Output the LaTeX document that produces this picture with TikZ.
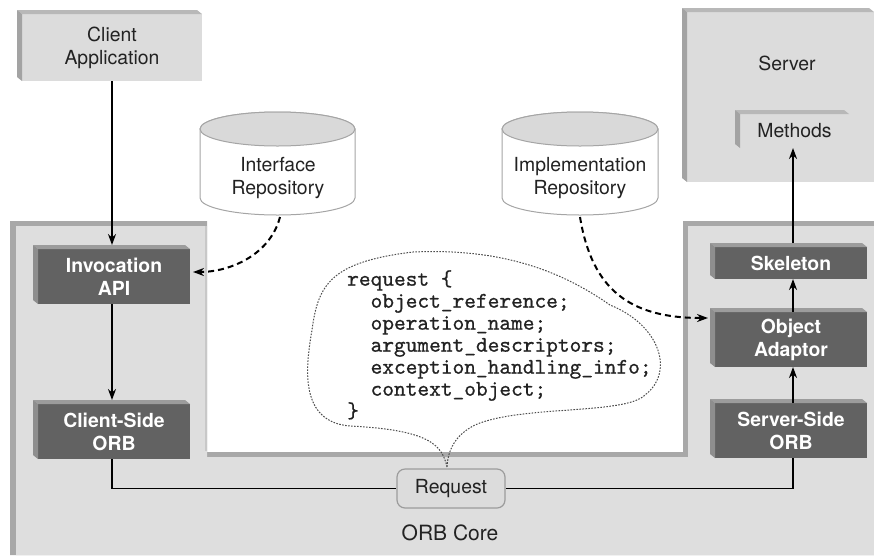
\documentclass[tikz,border=0pt]{standalone}
\usepackage{fontspec}
\setmainfont{TeX Gyre Heros}
\newfontfamily\codefont{lmmono10-regular}[Extension=.otf, FakeBold=0.8]
\usetikzlibrary{arrows.meta,calc}
\definecolor{lightfill}{HTML}{DCDCDC}
\definecolor{lightleft}{HTML}{A3A3A3}
\definecolor{lighttop}{HTML}{B8B8B8}
\definecolor{darkfill}{HTML}{626262}
\definecolor{darkleft}{HTML}{8E8E8E}
\definecolor{darktop}{HTML}{9C9C9C}
\definecolor{orbfill}{HTML}{DEDEDE}
\definecolor{orbedge}{HTML}{A8A8A8}
\definecolor{orbrim}{HTML}{C8C8C8}
\definecolor{cyltop}{HTML}{D9D9D9}
\definecolor{cylline}{HTML}{A5A5A5}
\definecolor{txt}{HTML}{222222}
\definecolor{reqline}{HTML}{9C9C9C}
\newcommand{\extrude}[3]{%
  \fill[#3] (#1.north west) -- ++(-5pt,4pt) -- ([shift={(-5pt,4pt)}]#1.north east) -- (#1.north east) -- cycle;
  \fill[#2] (#1.north west) -- ++(-5pt,4pt) -- ([shift={(-5pt,4pt)}]#1.south west) -- (#1.south west) -- cycle;
}
\tikzset{
  lightbox/.style={fill=lightfill, inner sep=0pt, outer sep=0pt, text=txt, align=center,
    font=\fontsize{19.4}{23}\selectfont},
  darkbox/.style={fill=darkfill, inner sep=0pt, outer sep=0pt, text=white, align=center,
    font=\fontsize{19.4}{23}\selectfont\bfseries, minimum width=152pt},
  lbl/.style={inner sep=0pt, text=txt, align=center, font=\fontsize{19.4}{23}\selectfont},
  conn/.style={line width=1.8pt, black},
  arr/.style={conn, -{Stealth[length=11pt,width=8pt]}},
  darr/.style={line width=2pt, black, dash pattern=on 6pt off 4pt, -{Stealth[length=11pt,width=8pt]}},
  callout/.style={line width=1pt, draw=black!70, dash pattern=on 1.6pt off 1.4pt},
  codetext/.style={inner sep=0pt, align=left, text=txt, font=\fontsize{22.3}{22}\selectfont\codefont},
}
\begin{document}
\begin{tikzpicture}[x=1pt,y=-1pt]
\useasboundingbox (0,0) rectangle (874,555);

% ORB core region
\fill[orbedge] (10,221) -- (207,221) -- (207,452) -- (683,452) -- (683,221) -- (874,221) -- (874,555) -- (10,555) -- cycle;
\fill[orbfill] (16,226) -- (207,226) -- (207,457) -- (688,457) -- (688,226) -- (874,226) -- (874,555) -- (16,555) -- cycle;
\draw[orbrim, line width=2pt] (206,226) -- (206,451);

% boxes
\node[lightbox, minimum width=180pt, minimum height=67pt] (clientapp) at (112,47.5) {Client\\Application};
\extrude{clientapp}{lightleft}{lighttop}
\node[lightbox, minimum width=187pt, minimum height=170pt] (server) at (780.5,97) {};
\extrude{server}{lightleft}{lighttop}
\node[lbl] (serverlbl) at (787,63) {Server};
\node[lightbox, minimum width=109pt, minimum height=34pt] (methods) at (794.5,131) {Methods};
\extrude{methods}{lightleft}{lighttop}

\node[darkbox, minimum height=55pt] (invapi) at (114,276.5) {Invocation\\API};
\extrude{invapi}{darkleft}{darktop}
\node[darkbox, minimum height=55pt] (cliorb) at (114,431.5) {Client-Side\\ORB};
\extrude{cliorb}{darkleft}{darktop}
\node[darkbox, minimum height=32pt] (skeleton) at (791,263) {Skeleton};
\extrude{skeleton}{darkleft}{darktop}
\node[darkbox, minimum height=55pt] (objad) at (791,339.5) {Object\\Adaptor};
\extrude{objad}{darkleft}{darktop}
\node[darkbox, minimum height=55pt] (srvorb) at (791,430.5) {Server-Side\\ORB};
\extrude{srvorb}{darkleft}{darktop}

% repositories
\path[fill=white, draw=cylline, line width=1pt] (200,129) -- (200,198)
  arc[start angle=180, end angle=360, x radius=77.5pt, y radius=17pt] -- (355,129)
  arc[start angle=0, end angle=180, x radius=77.5pt, y radius=17pt] -- cycle;
\draw[fill=cyltop, draw=cylline, line width=1pt] (277.5,129) ellipse[x radius=77.5pt, y radius=17pt];
\node[lbl] (ifrep) at (278,178.5) {Interface\\Repository};
\path[fill=white, draw=cylline, line width=1pt] (502,129) -- (502,198)
  arc[start angle=180, end angle=360, x radius=78pt, y radius=17pt] -- (658,129)
  arc[start angle=0, end angle=180, x radius=78pt, y radius=17pt] -- cycle;
\draw[fill=cyltop, draw=cylline, line width=1pt] (580,129) ellipse[x radius=78pt, y radius=17pt];
\node[lbl] (imprep) at (580,178.5) {Implementation\\Repository};
\coordinate (ifbot) at (280,217);
\coordinate (impbot) at (580,217);

% request box and ORB core label
\node[fill=lightfill, draw=reqline, line width=1.2pt, rounded corners=8pt, minimum width=108pt,
  minimum height=39pt, inner sep=0pt, text=txt, font=\fontsize{19.4}{23}\selectfont] (request) at (451,488.5) {Request};
\node[lbl, font=\fontsize{21}{25}\selectfont] (orbcore) at (450,533) {ORB Core};

% callout with code
\coordinate (tail) at (447,467);
\draw[callout] (tail) .. controls (442,445) and (430,430) .. (350,426)
  .. controls (300,422) and (305,370) .. (312,330)
  .. controls (318,285) and (330,262) .. (413,252)
  .. controls (500,248) and (560,270) .. (610,305)
  .. controls (660,325) and (675,372) .. (645,395)
  .. controls (625,415) and (520,405) .. (475,425)
  .. controls (455,435) and (448,450) .. (tail);
\node[codetext, anchor=north west] (code) at (347,270) {request \{\\
\phantom{xx}object\_reference;\\
\phantom{xx}operation\_name;\\
\phantom{xx}argument\_descriptors;\\
\phantom{xx}exception\_handling\_info;\\
\phantom{xx}context\_object;\\
\}};

% connectors
\draw[arr] (clientapp.south) -- ([yshift=4pt]clientapp.south |- invapi.north);
\draw[arr] ([xshift=-2pt]invapi.south) -- ([xshift=-2pt,yshift=4pt]invapi.south |- cliorb.north);
\draw[conn] ([xshift=-2pt]cliorb.south) |- (request.west);
\draw[conn] (request.east) -| ([xshift=2pt]srvorb.south);
\draw[arr] ([xshift=2pt]srvorb.north) -- ([xshift=2pt,yshift=0pt]srvorb.north |- objad.south);
\draw[arr] ([xshift=2pt]objad.north) -- ([xshift=2pt]objad.north |- skeleton.south);
\draw[arr] ([xshift=2pt,yshift=4pt]skeleton.north) -- ([xshift=2pt]skeleton.north |- methods.south);
\draw[darr] (ifbot) .. controls (270,255) and (230,272) .. ([shift={(3pt,4.5pt)}]invapi.east);
\draw[darr] (impbot) .. controls (592,290) and (630,318) .. ([shift={(-7pt,21.5pt)}]objad.west);
\end{tikzpicture}
\end{document}
